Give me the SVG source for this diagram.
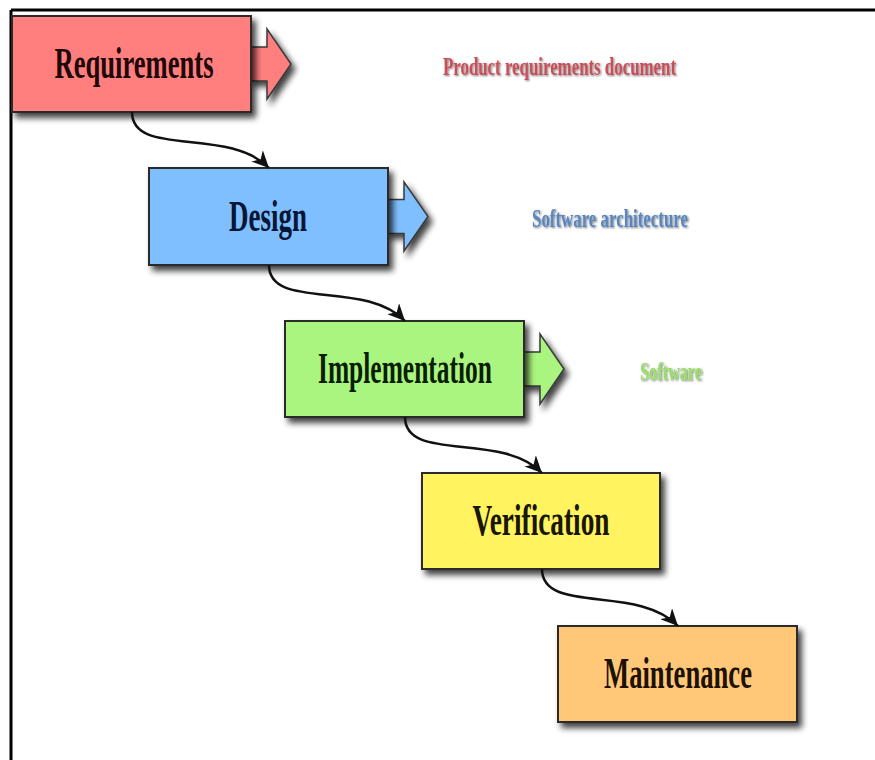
<svg xmlns="http://www.w3.org/2000/svg" width="875" height="760" viewBox="0 0 875 760">
  <defs>
    <filter id="shadow" x="-10%" y="-10%" width="130%" height="140%">
      <feGaussianBlur in="SourceAlpha" stdDeviation="3"/>
      <feOffset dx="4" dy="5" result="b"/>
      <feComponentTransfer><feFuncA type="linear" slope="0.75"/></feComponentTransfer>
      <feMerge><feMergeNode/><feMergeNode in="SourceGraphic"/></feMerge>
    </filter>
    <filter id="txtshadow" x="-5%" y="-20%" width="110%" height="160%">
      <feGaussianBlur in="SourceAlpha" stdDeviation="0.8"/>
      <feOffset dx="1" dy="1.2"/>
      <feComponentTransfer><feFuncA type="linear" slope="0.55"/></feComponentTransfer>
      <feMerge><feMergeNode/><feMergeNode in="SourceGraphic"/></feMerge>
    </filter>
    <marker id="head" markerUnits="userSpaceOnUse" markerWidth="20" markerHeight="16" refX="17" refY="8" orient="auto">
      <path d="M0,0 L17,8 L0,16 L5,8 z" fill="#111"/>
    </marker>
  </defs>
  <style>
    .box { stroke: #2b2b2b; stroke-width: 2; }
    .out { stroke: #3a3a3a; stroke-width: 1.5; stroke-linejoin: miter; }
    .name { font-family: "Liberation Serif", "Times New Roman", serif; font-weight: bold; font-size: 44px; text-anchor: middle; }
    .note { font-family: "Liberation Serif", "Times New Roman", serif; font-weight: bold; font-size: 25px; }
    .flow { fill: none; stroke: #111; stroke-width: 2.5; marker-end: url(#head); }
  </style>

  <rect width="875" height="760" fill="#fff"/>
  <!-- page frame: top and left rule only -->
  <path d="M11,10 H875 M11,10 V760" fill="none" stroke="#000" stroke-width="3"/>

  <!-- output arrows pointing right from each of the first three stages -->
  <g id="out-requirements" filter="url(#shadow)">
    <polygon class="out" fill="#ff7f7f" points="249,47 267,47 267,29 291,64 267,99 267,81 249,81"/>
  </g>
  <g id="out-design" filter="url(#shadow)">
    <polygon class="out" fill="#80bfff" points="386,199.5 404,199.5 404,182 428,216.5 404,251 404,233.5 386,233.5"/>
  </g>
  <g id="out-implementation" filter="url(#shadow)">
    <polygon class="out" fill="#a9f57f" points="522,352 540,352 540,334 564,369 540,404 540,386 522,386"/>
  </g>

  <!-- stage boxes -->
  <g id="requirements">
    <rect class="box" x="12" y="16" width="239" height="96" fill="#ff7f7f" filter="url(#shadow)"/>
    <text class="name" x="134" y="78" textLength="159" lengthAdjust="spacingAndGlyphs" fill="#1e0808">Requirements</text>
  </g>
  <g id="design">
    <rect class="box" x="149" y="168" width="239" height="97" fill="#80bfff" filter="url(#shadow)"/>
    <text class="name" x="268" y="231" textLength="78" lengthAdjust="spacingAndGlyphs" fill="#061634">Design</text>
  </g>
  <g id="implementation">
    <rect class="box" x="285" y="321" width="239" height="96" fill="#a9f57f" filter="url(#shadow)"/>
    <text class="name" x="405" y="383" textLength="174" lengthAdjust="spacingAndGlyphs" fill="#0a1e06">Implementation</text>
  </g>
  <g id="verification">
    <rect class="box" x="422" y="473" width="238" height="96" fill="#fff35e" filter="url(#shadow)"/>
    <text class="name" x="541" y="535" textLength="137" lengthAdjust="spacingAndGlyphs" fill="#1a1606">Verification</text>
  </g>
  <g id="maintenance">
    <rect class="box" x="558" y="626" width="239" height="96" fill="#ffc878" filter="url(#shadow)"/>
    <text class="name" x="678" y="688" textLength="148" lengthAdjust="spacingAndGlyphs" fill="#1e1206">Maintenance</text>
  </g>

  <!-- deliverable labels -->
  <g id="label-prd" filter="url(#txtshadow)">
    <text class="note" x="443" y="75" textLength="233" lengthAdjust="spacingAndGlyphs" fill="#c8505a">Product requirements document</text>
  </g>
  <g id="label-architecture" filter="url(#txtshadow)">
    <text class="note" x="532" y="227" textLength="156" lengthAdjust="spacingAndGlyphs" fill="#5a86bf">Software architecture</text>
  </g>
  <g id="label-software" filter="url(#txtshadow)">
    <text class="note" x="640" y="380" textLength="62" lengthAdjust="spacingAndGlyphs" fill="#98de66">Software</text>
  </g>

  <!-- stage-to-stage connectors -->
  <g id="connectors">
    <path class="flow" d="M132,112 C132,158 228,126 269,168"/>
    <path class="flow" d="M269,265 C269,311 365,279 405,321"/>
    <path class="flow" d="M405,417 C405,463 501,431 542,473"/>
    <path class="flow" d="M542,569 C542,615 638,584 678,626"/>
  </g>
</svg>
